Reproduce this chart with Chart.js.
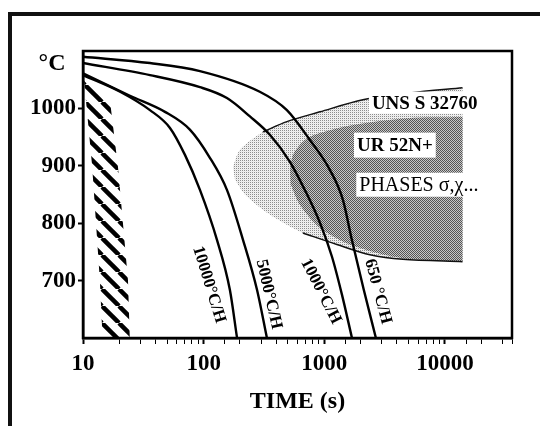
<!DOCTYPE html>
<html>
<head>
<meta charset="utf-8">
<script src="https://cdn.jsdelivr.net/npm/chart.js@4.4.1/dist/chart.umd.min.js"></script>
<style>
html, body { margin: 0; padding: 0; background: #fff; width: 540px; height: 426px; overflow: hidden; }
#frame { position: absolute; left: 8px; top: 12px; width: 600px; height: 500px; border-left: 4px solid #111; border-top: 4px solid #111; }
#wrap { position: absolute; left: 0; top: 0; width: 540px; height: 426px; }
</style>
</head>
<body>
<div id="frame"></div>
<div id="wrap"><canvas id="cct" width="540" height="426"></canvas></div>
<script>
// Axes
let xTicks = [10, 100, 1000, 10000];
let yTicks = [700, 800, 900, 1000];

// Cooling curves: time (s) and temperature (°C)
let t650 = [10, 35.9, 93.2, 292, 490, 760, 1113, 1426, 1693, 2126, 2673];
let c650 = [1090, 1079, 1065, 1029, 997, 945, 893, 841, 771, 684, 601];
let t1000 = [10, 35.9, 93.2, 156, 242, 354, 519, 690, 920, 1157, 1400, 1693];
let c1000 = [1079, 1058, 1037, 1018, 986, 954, 907, 858, 801, 742, 676, 601];
let t5000 = [10, 24.5, 47.8, 76.9, 112.7, 156, 212, 277, 334];
let c5000 = [1061, 1022, 994, 963, 914, 858, 771, 684, 601];
let t10000 = [10, 20.3, 35.9, 52.6, 70, 93.2, 129, 165, 189];
let c10000 = [1058, 1029, 997, 966, 919, 858, 771, 684, 601];
let curveLabels = ['650 °C/H', '1000°C/H', '5000°C/H', '10000°C/H'];

// Hatched band (quench zone)
let tHatch = [10.1, 13.1, 16.7, 19.5, 23.6, 24.5, 14.6, 13.8, 11.9, 10.3];
let cHatch = [1056, 1041, 1015, 898, 700, 590, 590, 700, 900, 1040];

// Precipitation zone UNS S 32760 (light)
let tUns = [175, 200, 310, 490, 920, 2090, 5120, 14000, 14000, 14000, 14000, 4480, 2390, 1272, 665, 354, 220, 182];
let cUns = [898, 928, 959, 977, 994, 1015, 1027, 1036, 1036, 733, 733, 737, 745, 763, 783, 815, 850, 876];
let tUnsTop = [310, 490, 920, 2090, 5120, 14000];
let cUnsTop = [959, 977, 994, 1015, 1027, 1036];
let tUnsBot = [665, 1272, 2390, 4480, 14000];
let cUnsBot = [783, 763, 745, 737, 733];

// Precipitation zone UR 52N+ (dark)
let tUr = [519, 550, 690, 920, 1725, 4830, 14000, 14000, 14000, 14000, 4230, 1630, 920, 628, 528];
let cUr = [893, 919, 945, 957, 971, 983, 985, 985, 733, 733, 740, 763, 792, 832, 867];

let zoneLabels = ['UNS S 32760', 'UR 52N+', 'PHASES σ,χ...'];

// label anchors (data coords) and look
let zonePos = [
    { t: 6800, c: 1010, h: 22, font: 'bold 19px "Liberation Serif"' },
    { t: 3850, c: 936, h: 25, font: 'bold 19px "Liberation Serif"' },
    { t: 6080, c: 867, h: 24, font: '20px "Liberation Serif"' }
];
let curvePos = [
    { t: 2780, c: 681, a: 75 },
    { t: 937, c: 681, a: 63 },
    { t: 347, c: 676, a: 77 },
    { t: 110.6, c: 693, a: 73 }
];

function pts(xs, ys) {
    return xs.map((v, i) => ({ x: v, y: ys[i] }));
}

function makeDots(cols) {
    let c = document.createElement('canvas');
    c.width = 2; c.height = 2;
    let g = c.getContext('2d');
    cols.forEach((col, i) => { g.fillStyle = col; g.fillRect(i % 2, Math.floor(i / 2), 1, 1); });
    return g.createPattern(c, 'repeat');
}

function makeHatch() {
    let w = 17, h = 17;
    let c = document.createElement('canvas');
    c.width = w; c.height = h;
    let g = c.getContext('2d');
    g.strokeStyle = '#000';
    g.lineWidth = 4.5;
    [-1, 0, 1].forEach(k => {
        g.beginPath();
        g.moveTo(k * w, 0);
        g.lineTo(k * w + w, h);
        g.stroke();
    });
    return g.createPattern(c, 'repeat');
}

let serif = '"Liberation Serif", "Times New Roman", serif';

let decor = {
    id: 'decor',
    afterDatasetsDraw(chart) {
        let { ctx, chartArea: a, scales: { x, y } } = chart;
        ctx.save();
        ctx.strokeStyle = '#000';
        ctx.lineWidth = 2.5;
        ctx.strokeRect(a.left, a.top, a.right - a.left, a.bottom - a.top);

        ctx.textAlign = 'center';
        ctx.textBaseline = 'middle';
        zoneLabels.forEach((txt, i) => {
            let p = zonePos[i];
            ctx.font = p.font;
            let w = ctx.measureText(txt).width;
            let px = x.getPixelForValue(p.t);
            let py = y.getPixelForValue(p.c);
            ctx.fillStyle = '#fff';
            ctx.fillRect(px - w / 2 - 3, py - p.h / 2, w + 6, p.h);
            ctx.fillStyle = '#000';
            ctx.fillText(txt, px, py + 1);
        });

        ctx.font = 'bold 17px ' + serif;
        curveLabels.forEach((txt, i) => {
            let p = curvePos[i];
            ctx.save();
            ctx.translate(x.getPixelForValue(p.t), y.getPixelForValue(p.c));
            ctx.rotate(p.a * Math.PI / 180);
            ctx.fillText(txt, 0, 0);
            ctx.restore();
        });

        ctx.font = 'bold 24px ' + serif;
        ctx.fillText('°C', 52, 64);
        ctx.restore();
    }
};

let lineStyle = { borderColor: '#000', borderWidth: 2.4, pointRadius: 0, fill: false, cubicInterpolationMode: 'monotone', order: 0 };

let cctChart = new Chart(document.getElementById('cct').getContext('2d'), {
    type: 'line',
    data: {
        datasets: [
            { ...lineStyle, data: pts(t650, c650) },
            { ...lineStyle, data: pts(t1000, c1000) },
            { ...lineStyle, data: pts(t5000, c5000) },
            { ...lineStyle, data: pts(t10000, c10000) },
            { data: pts(tUnsTop, cUnsTop), borderColor: '#111', borderWidth: 1.5, pointRadius: 0, tension: 0.3, fill: false, order: 1 },
            { data: pts(tUnsBot, cUnsBot), borderColor: '#111', borderWidth: 1.5, pointRadius: 0, tension: 0.3, fill: false, order: 1 },
            { data: pts(tHatch, cHatch), borderWidth: 0, pointRadius: 0, tension: 0, fill: 'shape', backgroundColor: makeHatch(), order: 2 },
            { data: pts(tUr, cUr), borderWidth: 0, pointRadius: 0, tension: 0.3, fill: 'shape', backgroundColor: makeDots(['#555', '#c8c8c8', '#c8c8c8', '#555']), order: 3 },
            { data: pts(tUns, cUns), borderWidth: 0, pointRadius: 0, tension: 0.3, fill: 'shape', backgroundColor: makeDots(['#8c8c8c', '#f2f2f2', '#f2f2f2', '#e6e6e6']), order: 4 }
        ]
    },
    options: {
        responsive: false,
        animation: false,
        layout: { padding: { left: 0, top: 51, right: 28, bottom: 0 } },
        plugins: { legend: { display: false }, tooltip: { enabled: false } },
        scales: {
            x: {
                type: 'logarithmic',
                min: 10,
                max: 36000,
                afterFit: s => { s.height = 88; },
                border: { color: '#000', width: 2.5 },
                grid: {
                    drawOnChartArea: false,
                    tickLength: 6,
                    tickColor: '#000',
                    tickWidth: c => xTicks.includes(c.tick && c.tick.value) ? 2 : 1
                },
                ticks: {
                    autoSkip: false,
                    maxRotation: 0,
                    padding: 6,
                    color: '#000',
                    font: { family: serif, size: 23, weight: 'bold' },
                    callback: v => xTicks.includes(v) ? String(v) : ''
                },
                title: {
                    display: true,
                    text: 'TIME (s)',
                    color: '#000',
                    font: { family: serif, size: 24, weight: 'bold' },
                    padding: { top: 0, bottom: 10 }
                }
            },
            y: {
                type: 'linear',
                min: 600,
                max: 1100,
                afterFit: s => { s.width = 83; },
                afterBuildTicks: s => { s.ticks = yTicks.map(v => ({ value: v })); },
                border: { color: '#000', width: 2.5 },
                grid: { drawOnChartArea: false, tickLength: 5, tickColor: '#000', tickWidth: 2 },
                ticks: {
                    padding: 2,
                    color: '#000',
                    font: { family: serif, size: 23, weight: 'bold' },
                    callback: v => String(v)
                }
            }
        }
    },
    plugins: [decor]
});
</script>
</body>
</html>
